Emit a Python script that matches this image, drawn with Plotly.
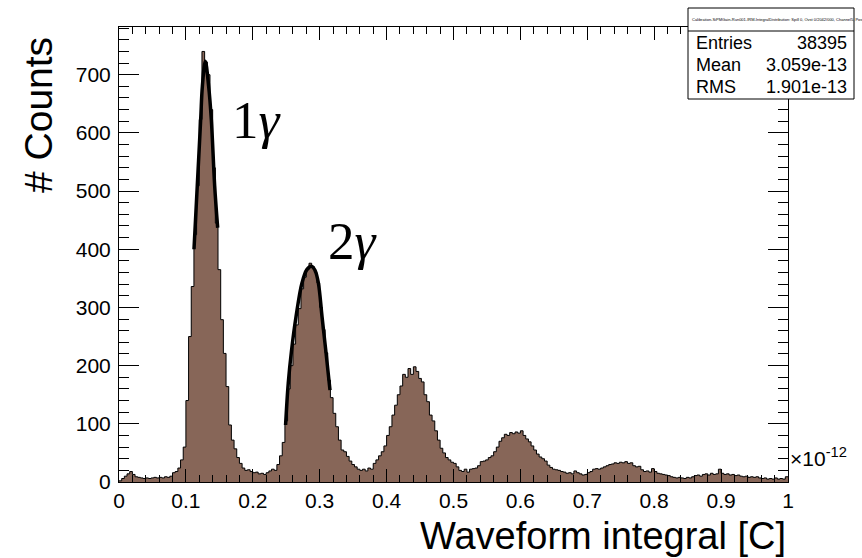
import numpy as np
import plotly.graph_objects as go

# ---------------- data ----------------
X_MIN, X_MAX = 0.0, 1.0          # units of 1e-12 C
N_BINS = 250
COUNTS = [
    2, 6, 10, 14, 18, 13, 9, 8, 7, 6,
    7, 6, 7, 8, 7, 8, 7, 9, 8, 10,
    16, 18, 24, 38, 60, 140, 250, 336, 425, 509,
    623, 740, 722, 700, 640, 540, 445, 365, 279, 221,
    164, 98, 72, 57, 42, 32, 24, 20, 21, 18,
    16, 17, 14, 15, 13, 16, 19, 22, 20, 30,
    45, 68, 105, 160, 200, 237, 270, 298, 332, 352,
    365, 376, 370, 360, 342, 300, 262, 222, 175, 145,
    118, 95, 72, 55, 52, 44, 36, 30, 26, 22,
    20, 22, 19, 24, 22, 32, 38, 45, 52, 62,
    80, 95, 115, 132, 150, 165, 185, 180, 195, 185,
    198, 190, 178, 172, 150, 138, 115, 105, 88, 72,
    58, 50, 42, 38, 34, 32, 26, 20, 18, 22,
    17, 22, 23, 24, 28, 35, 36, 38, 42, 45,
    52, 60, 70, 76, 82, 80, 85, 83, 86, 84,
    88, 80, 74, 69, 62, 55, 48, 43, 40, 36,
    29, 25, 22, 21, 20, 18, 17, 15, 16, 14,
    19, 16, 14, 12, 13, 16, 18, 22, 23, 22,
    24, 26, 28, 30, 31, 33, 32, 34, 33, 35,
    32, 33, 28, 26, 27, 21, 18, 19, 17, 23,
    18, 15, 14, 13, 12, 11, 9, 8, 7, 8,
    7, 6, 8, 7, 9, 11, 12, 10, 13, 14,
    12, 15, 13, 14, 22, 15, 13, 14, 12, 13,
    11, 12, 10, 9, 10, 8, 9, 8, 9, 7,
    6, 7, 5, 6, 5, 7, 5, 6, 5, 9,
]
assert len(COUNTS) == N_BINS

# Gaussian fit curves
FIT1_X = [0.1121, 0.117, 0.1221, 0.1246, 0.1290, 0.134, 0.138, 0.143, 0.1475]
FIT1_Y = [400, 509, 623, 680, 723, 680, 623, 509, 437]
FIT2_X = [0.249, 0.253, 0.258, 0.2646, 0.2735, 0.2808, 0.2875, 0.293, 0.298, 0.3035, 0.309, 0.3154]
FIT2_Y = [98, 170, 227, 284, 342, 365, 371, 364, 342, 284, 227, 158]

X_TICKS = [0, 0.1, 0.2, 0.3, 0.4, 0.5, 0.6, 0.7, 0.8, 0.9, 1.0]
X_TICKTEXT = ["0", "0.1", "0.2", "0.3", "0.4", "0.5", "0.6", "0.7", "0.8", "0.9", "1"]
Y_TICKS = [0, 100, 200, 300, 400, 500, 600, 700]
Y_TICKTEXT = ["0", "100", "200", "300", "400", "500", "600", "700"]
Y_MAX = 782

STATS_TITLE = "Calibration-SiPMGain-Run001-IRM-IntegralDistribution: Spill 0, Ovst 0/2042/000, Channel5, Pos"
STATS_LABELS = ["Entries", "Mean", "RMS"]
STATS_VALUES = ["38395", "3.059e-13", "1.901e-13"]

PEAK_LABELS = ["1<i>γ</i>", "2<i>γ</i>"]
PEAK_LABEL_X = [0.206, 0.350]
PEAK_LABEL_Y = [622, 414]

# ---------------- figure ----------------
edges = np.linspace(X_MIN, X_MAX, N_BINS + 1)
step_x = list(edges)
step_y = list(COUNTS) + [COUNTS[-1]]

FILL = "rgb(135,102,88)"
FONT = "Liberation Sans"

fig = go.Figure()
fig.add_trace(go.Scatter(
    x=step_x, y=step_y, mode="lines", line=dict(shape="hv", color="black", width=1),
    fill="tozeroy", fillcolor=FILL, hoverinfo="skip", showlegend=False))
for fx, fy in ((FIT1_X, FIT1_Y), (FIT2_X, FIT2_Y)):
    fig.add_trace(go.Scatter(
        x=fx, y=fy, mode="lines", line=dict(color="black", width=3.5, shape="spline"),
        hoverinfo="skip", showlegend=False))
# invisible trace so the mirrored (top/right) axes are drawn
fig.add_trace(go.Scatter(x=[0.5], y=[100], xaxis="x2", yaxis="y2", mode="markers",
                         marker=dict(opacity=0), hoverinfo="skip", showlegend=False))

axis_common = dict(showgrid=False, zeroline=False, showline=True, linecolor="black",
                   linewidth=1, ticks="inside", tickcolor="black", tickwidth=1)

fig.update_layout(
    width=862, height=558, autosize=False,
    margin=dict(l=119, r=74, t=27, b=76, pad=0),
    paper_bgcolor="white", plot_bgcolor="white",
    font=dict(family=FONT, color="black", size=20),
    xaxis=dict(range=[X_MIN, X_MAX], tickmode="array", tickvals=X_TICKS, ticktext=X_TICKTEXT,
               ticklen=13, tickfont=dict(size=21, family=FONT, color="black"),
               minor=dict(ticks="inside", ticklen=7, tickmode="linear", tick0=0, dtick=0.02,
                          tickcolor="black", tickwidth=1),
               **axis_common),
    yaxis=dict(range=[0, Y_MAX], tickmode="array", tickvals=Y_TICKS, ticktext=Y_TICKTEXT,
               ticklen=20, tickfont=dict(size=21, family=FONT, color="black"),
               ticklabelstandoff=3,
               minor=dict(ticks="inside", ticklen=10, tickmode="linear", tick0=0, dtick=20,
                          tickcolor="black", tickwidth=1),
               **axis_common),
    xaxis2=dict(range=[X_MIN, X_MAX], overlaying="x", side="top", anchor="y",
                tickmode="array", tickvals=X_TICKS, showticklabels=False, ticklen=13,
                minor=dict(ticks="inside", ticklen=7, tickmode="linear", tick0=0, dtick=0.02,
                           tickcolor="black", tickwidth=1),
                **axis_common),
    yaxis2=dict(range=[0, Y_MAX], overlaying="y", side="right", anchor="x",
                tickmode="array", tickvals=Y_TICKS, showticklabels=False, ticklen=20,
                minor=dict(ticks="inside", ticklen=10, tickmode="linear", tick0=0, dtick=20,
                           tickcolor="black", tickwidth=1),
                **axis_common),
)

# pixel -> paper helpers (plot area: x 119..788, y 27..482)
def px(xp):
    return (xp - 119) / 669.0

def py(yp):
    return (482 - yp) / 455.0

annotations = []
# peak labels
for t, x, y in zip(PEAK_LABELS, PEAK_LABEL_X, PEAK_LABEL_Y):
    annotations.append(dict(x=x, y=y, xref="x", yref="y", text=t, showarrow=False,
                            font=dict(family="Liberation Serif", size=53, color="black"),
                            xanchor="center", yanchor="middle"))
# axis titles
annotations.append(dict(x=1.0, y=py(536), xref="paper", yref="paper",
                        text="Waveform integral [C]", showarrow=False,
                        xanchor="right", yanchor="middle",
                        font=dict(family=FONT, size=38, color="black")))
annotations.append(dict(x=px(38), y=py(35), xref="paper", yref="paper",
                        text="# Counts", textangle=-90, showarrow=False,
                        xanchor="center", yanchor="top",
                        font=dict(family=FONT, size=39, color="black")))
# exponent
annotations.append(dict(x=px(788), y=py(457), xref="paper", yref="paper",
                        text="×10<sup>-12</sup>", showarrow=False,
                        xanchor="left", yanchor="middle",
                        font=dict(family=FONT, size=21, color="black")))

# stats box
shapes = [
    dict(type="rect", xref="paper", yref="paper", x0=px(688), x1=px(854), y0=py(99), y1=py(8),
         fillcolor="white", line=dict(color="black", width=1), layer="above"),
    dict(type="line", xref="paper", yref="paper", x0=px(688), x1=px(854), y0=py(31), y1=py(31),
         line=dict(color="black", width=1), layer="above"),
]
annotations.append(dict(x=px(690), y=py(19.5), xref="paper", yref="paper",
                        text=STATS_TITLE, showarrow=False, xanchor="left", yanchor="middle",
                        font=dict(family=FONT, size=4, color="black")))
row_y = [43.5, 65, 86.5]
for lab, val, ry in zip(STATS_LABELS, STATS_VALUES, row_y):
    annotations.append(dict(x=px(694), y=py(ry), xref="paper", yref="paper", text=lab,
                            showarrow=False, xanchor="left", yanchor="middle",
                            font=dict(family=FONT, size=18, color="black")))
    annotations.append(dict(x=px(849), y=py(ry), xref="paper", yref="paper", text=val,
                            showarrow=False, xanchor="right", yanchor="middle",
                            font=dict(family=FONT, size=18, color="black")))

fig.update_layout(annotations=annotations, shapes=shapes)
fig.write_html("out.html")
